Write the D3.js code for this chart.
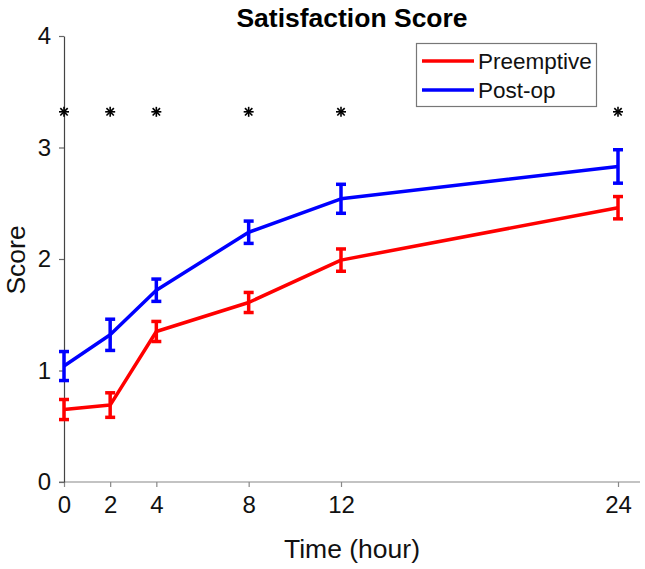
<!DOCTYPE html>
<html><head><meta charset="utf-8">
<script src="https://cdn.jsdelivr.net/npm/d3@7"></script>
<style>body{margin:0;background:#fff}svg{display:block;font-family:Arial,"Liberation Sans",sans-serif}</style>
</head><body>
<script>
const times = [0, 2, 4, 8, 12, 24];
const preemptive = [0.65, 0.69, 1.35, 1.61, 1.99, 2.46];
const preemptiveErr = [0.09, 0.11, 0.09, 0.09, 0.10, 0.10];
const postop = [1.04, 1.32, 1.72, 2.24, 2.54, 2.83];
const postopErr = [0.13, 0.14, 0.10, 0.10, 0.13, 0.15];
const sigTimes = [0, 2, 4, 8, 12, 24];
const sigLevel = 3.32;
const yTicks = [0, 1, 2, 3, 4];
const seriesNames = ["Preemptive", "Post-op"];
const seriesColors = ["#ff0000", "#0000ff"];

const W = 645, H = 569;
const svg = d3.select("body").append("svg").attr("width", W).attr("height", H);
const x = d3.scaleLinear().domain([0, 24]).range([64, 618]);
const y = d3.scaleLinear().domain([0, 4]).range([482, 36]);

// title
svg.append("text").attr("x", 352).attr("y", 27).attr("text-anchor", "middle")
  .attr("font-size", 26.5).attr("font-weight", "bold").text("Satisfaction Score");

// x axis
const xAxis = svg.append("g").attr("transform", `translate(0,${y(0)})`)
  .call(d3.axisBottom(x).tickValues(times).tickSize(5).tickSizeOuter(0).tickPadding(9));
xAxis.select(".domain").remove();
xAxis.append("line").attr("x1", 59).attr("x2", 640).attr("stroke", "#888").attr("stroke-width", 1.2);
xAxis.selectAll(".tick line").attr("stroke", "#888").attr("stroke-width", 1.2);
xAxis.selectAll(".tick text").attr("font-size", 24).attr("fill", "#111").attr("font-family", "Arial, Liberation Sans, sans-serif");

// y axis
const yAxis = svg.append("g").attr("transform", `translate(${x(0)},0)`)
  .call(d3.axisLeft(y).tickValues(yTicks).tickFormat(d3.format("d")).tickSize(5).tickSizeOuter(0).tickPadding(8));
yAxis.select(".domain").attr("stroke", "#444").attr("stroke-width", 1.2);
yAxis.selectAll(".tick line").attr("stroke", "#666").attr("stroke-width", 1.2);
yAxis.selectAll(".tick text").attr("font-size", 24).attr("fill", "#111").attr("font-family", "Arial, Liberation Sans, sans-serif");

// axis labels
svg.append("text").attr("x", 352).attr("y", 558).attr("text-anchor", "middle")
  .attr("font-size", 26.5).attr("fill", "#111").text("Time (hour)");
svg.append("text").attr("transform", "translate(25,260) rotate(-90)").attr("text-anchor", "middle")
  .attr("font-size", 26.5).attr("fill", "#111").text("Score");

// series
const series = [
  {name: seriesNames[0], color: seriesColors[0], vals: preemptive, err: preemptiveErr},
  {name: seriesNames[1], color: seriesColors[1], vals: postop, err: postopErr}
];
const line = d3.line().x(d => x(d.t)).y(d => y(d.v));
series.forEach(s => {
  const pts = times.map((t, i) => ({t, v: s.vals[i], e: s.err[i]}));
  svg.append("path").datum(pts).attr("d", line).attr("fill", "none")
    .attr("stroke", s.color).attr("stroke-width", 3.5).attr("stroke-linejoin", "round");
  const g = svg.append("g").attr("stroke", s.color).attr("stroke-width", 3.5);
  pts.forEach(p => {
    g.append("line").attr("x1", x(p.t)).attr("x2", x(p.t)).attr("y1", y(p.v - p.e)).attr("y2", y(p.v + p.e));
    g.append("line").attr("x1", x(p.t) - 5).attr("x2", x(p.t) + 5).attr("y1", y(p.v - p.e)).attr("y2", y(p.v - p.e));
    g.append("line").attr("x1", x(p.t) - 5).attr("x2", x(p.t) + 5).attr("y1", y(p.v + p.e)).attr("y2", y(p.v + p.e));
  });
});

// asterisks
const star = svg.append("g").attr("stroke", "#000").attr("stroke-width", 1.6);
sigTimes.forEach(t => {
  const cx = x(t), cy = y(sigLevel), r = 5, rd = 3.7;
  star.append("line").attr("x1", cx).attr("x2", cx).attr("y1", cy - r).attr("y2", cy + r);
  star.append("line").attr("x1", cx - r).attr("x2", cx + r).attr("y1", cy).attr("y2", cy);
  star.append("line").attr("x1", cx - rd).attr("x2", cx + rd).attr("y1", cy - rd).attr("y2", cy + rd);
  star.append("line").attr("x1", cx - rd).attr("x2", cx + rd).attr("y1", cy + rd).attr("y2", cy - rd);
});

// legend
const lg = svg.append("g");
lg.append("rect").attr("x", 416.5).attr("y", 43.5).attr("width", 180).attr("height", 63)
  .attr("fill", "#fff").attr("stroke", "#777").attr("stroke-width", 1.2);
series.forEach((s, i) => {
  const ly = 61 + i * 29;
  lg.append("line").attr("x1", 422).attr("x2", 474).attr("y1", ly).attr("y2", ly)
    .attr("stroke", s.color).attr("stroke-width", 3.5);
  lg.append("text").attr("x", 478).attr("y", ly + 8).attr("font-size", 22.5).attr("fill", "#111").text(s.name);
});
</script>
</body></html>
